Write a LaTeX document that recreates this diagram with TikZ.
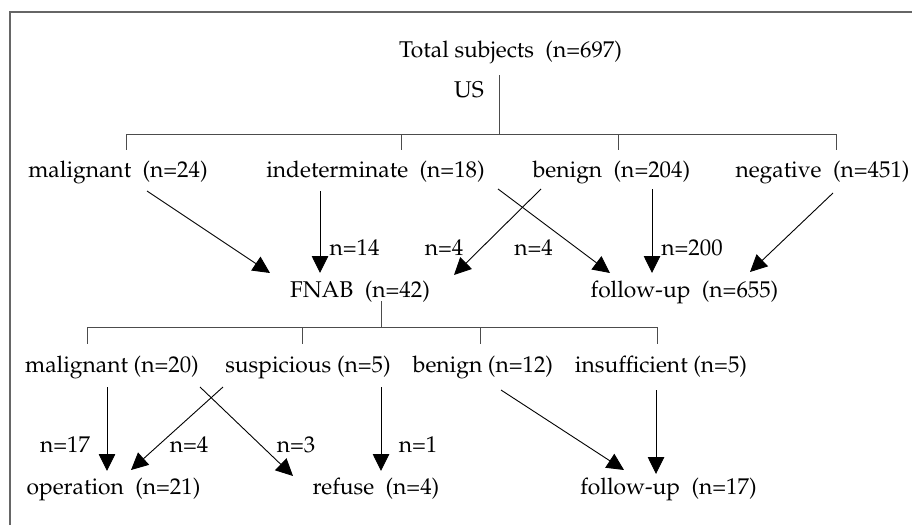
\documentclass[tikz,border=0pt]{standalone}
\usepackage[T1]{fontenc}
\usepackage{mathpazo}
\usetikzlibrary{arrows.meta,calc}
\begin{document}
\begin{tikzpicture}[x=1pt,y=-1pt,
  lbl/.style={anchor=base,inner sep=0pt,font=\fontsize{22.8}{27}\selectfont},
  cnt/.style={anchor=base,inner sep=0pt,font=\fontsize{22.8}{27}\selectfont},
  tree/.style={draw=black!70,line width=0.9pt},
  arr/.style={draw=black,line width=0.9pt,-{Triangle[length=17pt,width=16.5pt]}},
  frame/.style={draw=black!60,line width=1.5pt}]
\useasboundingbox (0,0) rectangle (912,527);
% frame
\coordinate (fA) at (10,525);
\coordinate (fB) at (10,12);
\coordinate (fC) at (912,12);
\draw[frame] (fA) -- (fB) -- (fC);
% level 0
\node[lbl] (total) at (510.5,58) {Total subjects\ \ (n=697)};
\node[lbl] (us) at (469,97) {US};
% level 1
\node[lbl] (mal1) at (118,177) {malignant\ \ (n=24)};
\node[lbl] (ind) at (375.5,177) {indeterminate\ \ (n=18)};
\node[lbl] (ben1) at (611.5,177) {benign\ \ (n=204)};
\node[lbl] (neg) at (822.5,177) {negative\ \ (n=451)};
% level 2
\node[lbl] (fnab) at (360,297) {FNAB\ \ (n=42)};
\node[lbl] (fu1) at (684.5,297) {follow-up\ \ (n=655)};
% level 3
\node[lbl] (mal2) at (112,372) {malignant (n=20)};
\node[lbl] (sus) at (308,372) {suspicious (n=5)};
\node[lbl] (ben2) at (483,372) {benign (n=12)};
\node[lbl] (ins) at (661,372) {insufficient (n=5)};
% level 4
\node[lbl] (op) at (113.5,494) {operation\ \ (n=21)};
\node[lbl] (ref) at (376,494) {refuse\ \ (n=4)};
\node[lbl] (fu2) at (668.5,494) {follow-up\ \ (n=17)};
% top tree
\coordinate (t0) at (499,75);
\coordinate (t1) at (499,134);
\coordinate (h1a) at (126,134);
\coordinate (h1b) at (836,134);
\draw[tree] (t0) -- (t1);
\draw[tree] (h1a) -- (h1b);
\foreach \xx in {126,401,618,836}{\draw[tree] (\xx,134) -- (\xx,150);}
% second tree
\coordinate (s0) at (381,301);
\coordinate (s1) at (381,327);
\coordinate (h2a) at (87,327);
\coordinate (h2b) at (657,327);
\draw[tree] (s0) -- (s1);
\draw[tree] (h2a) -- (h2b);
\foreach \xx in {87,302,480,657}{\draw[tree] (\xx,327) -- (\xx,344);}
% arrows level 1 -> 2
\draw[arr] ($(mal1.base)+(29,14)$) -- ($(fnab.base)+(-90,-24)$);
\draw[arr] ($(ind.base)+(-55.5,14)$) -- ($(fnab.base)+(-40,-24)$);
\draw[arr] ($(ben1.base)+(-70.5,12)$) -- ($(fnab.base)+(94,-22)$);
\draw[arr] ($(ind.base)+(122.5,12)$) -- ($(fu1.base)+(-74.5,-24)$);
\draw[arr] ($(ben1.base)+(40.5,12)$) -- ($(fu1.base)+(-32.5,-24)$);
\draw[arr] ($(neg.base)+(10.5,16)$) -- ($(fu1.base)+(65.5,-25)$);
\node[cnt] (c14) at (354.5,255) {n=14};
\node[cnt] (c4a) at (444,255) {n=4};
\node[cnt] (c4b) at (533.5,255) {n=4};
\node[cnt] (c200) at (692,255) {n=200};
% arrows level 3 -> 4
\draw[arr] ($(mal2.base)+(-5,15)$) -- ($(op.base)+(-6.5,-23)$);
\draw[arr] ($(sus.base)+(-85,15)$) -- ($(op.base)+(17.5,-24)$);
\draw[arr] ($(mal2.base)+(88,15)$) -- ($(ref.base)+(-83,-18)$);
\draw[arr] ($(sus.base)+(73,15)$) -- ($(ref.base)+(5,-23)$);
\draw[arr] ($(ben2.base)+(18,18)$) -- ($(fu2.base)+(-44.5,-24)$);
\draw[arr] ($(ins.base)+(-5,18)$) -- ($(fu2.base)+(-12.5,-20)$);
\node[cnt] (c17) at (65,452) {n=17};
\node[cnt] (c4c) at (189,452) {n=4};
\node[cnt] (c3) at (296,452) {n=3};
\node[cnt] (c1) at (418,452) {n=1};
\end{tikzpicture}
\end{document}
